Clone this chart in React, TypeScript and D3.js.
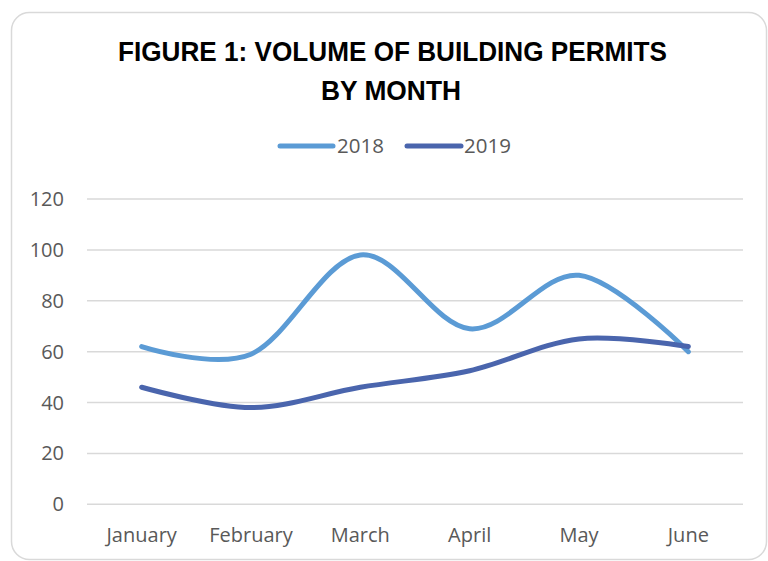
import React from "react";
import * as d3 from "d3";

const months = ["January", "February", "March", "April", "May", "June"];
const series2018 = [62, 59, 98, 69, 90, 60];
const series2019 = [46, 38, 46, 52.5, 65, 62];
const yTicks = [0, 20, 40, 60, 80, 100, 120];
const seriesNames = ["2018", "2019"];
const seriesColors = ["#5B9BD5", "#4A65AD"];

const W = 768;
const H = 561;

export default function App() {
  const x = d3.scaleBand().domain(months).range([87, 743]);
  const y = d3.scaleLinear().domain([0, 120]).range([504.3, 199]);
  const line = d3
    .line<number>()
    .x((_, i) => (x(months[i]) as number) + x.bandwidth() / 2)
    .y((d) => y(d))
    .curve(d3.curveCatmullRom.alpha(0));
  const all = [series2018, series2019];
  const labelFont = "'Open Sans', 'DejaVu Sans', sans-serif";
  const legendX = [[280, 333, 337], [407, 461, 464]];

  return (
    <svg width={W} height={H} style={{ position: "absolute", left: 0, top: 0 }}>
      <rect x={0} y={0} width={W} height={H} fill="#fff" />
      <rect x={11.5} y={12.5} width={755} height={547} rx={18} ry={18} fill="#fff" stroke="#d9d9d9" strokeWidth={1.5} />
      <text
        x={392.5}
        y={60.5}
        textAnchor="middle"
        fontFamily="'Liberation Sans Narrow', 'Arial Narrow', 'Liberation Sans', Arial, sans-serif"
        fontWeight="bold"
        fontSize={28.5}
        fill="#000"
        textLength={549}
        lengthAdjust="spacingAndGlyphs"
      >
        FIGURE 1: VOLUME OF BUILDING PERMITS
      </text>
      <text
        x={391}
        y={100}
        textAnchor="middle"
        fontFamily="'Liberation Sans Narrow', 'Arial Narrow', 'Liberation Sans', Arial, sans-serif"
        fontWeight="bold"
        fontSize={28.5}
        fill="#000"
        textLength={140}
        lengthAdjust="spacingAndGlyphs"
      >
        BY MONTH
      </text>
      {seriesNames.map((n, i) => (
        <g key={n}>
          <line x1={legendX[i][0]} x2={legendX[i][1]} y1={146} y2={146} stroke={seriesColors[i]} strokeWidth={5} strokeLinecap="round" />
          <text x={legendX[i][2]} y={153} fontFamily={labelFont} fontSize={20.5} fill="#595959">
            {n}
          </text>
        </g>
      ))}
      {yTicks.map((t) => (
        <g key={t}>
          <line x1={87} x2={743} y1={y(t)} y2={y(t)} stroke="#d9d9d9" strokeWidth={1.5} />
          <text x={64} y={y(t) + 7} textAnchor="end" fontFamily={labelFont} fontSize={20} fill="#595959">
            {t}
          </text>
        </g>
      ))}
      {months.map((m) => (
        <text
          key={m}
          x={(x(m) as number) + x.bandwidth() / 2}
          y={542}
          textAnchor="middle"
          fontFamily={labelFont}
          fontSize={20}
          fill="#595959"
        >
          {m}
        </text>
      ))}
      {all.map((s, i) => (
        <path key={i} d={line(s) || ""} fill="none" stroke={seriesColors[i]} strokeWidth={5} strokeLinecap="round" strokeLinejoin="round" />
      ))}
    </svg>
  );
}
